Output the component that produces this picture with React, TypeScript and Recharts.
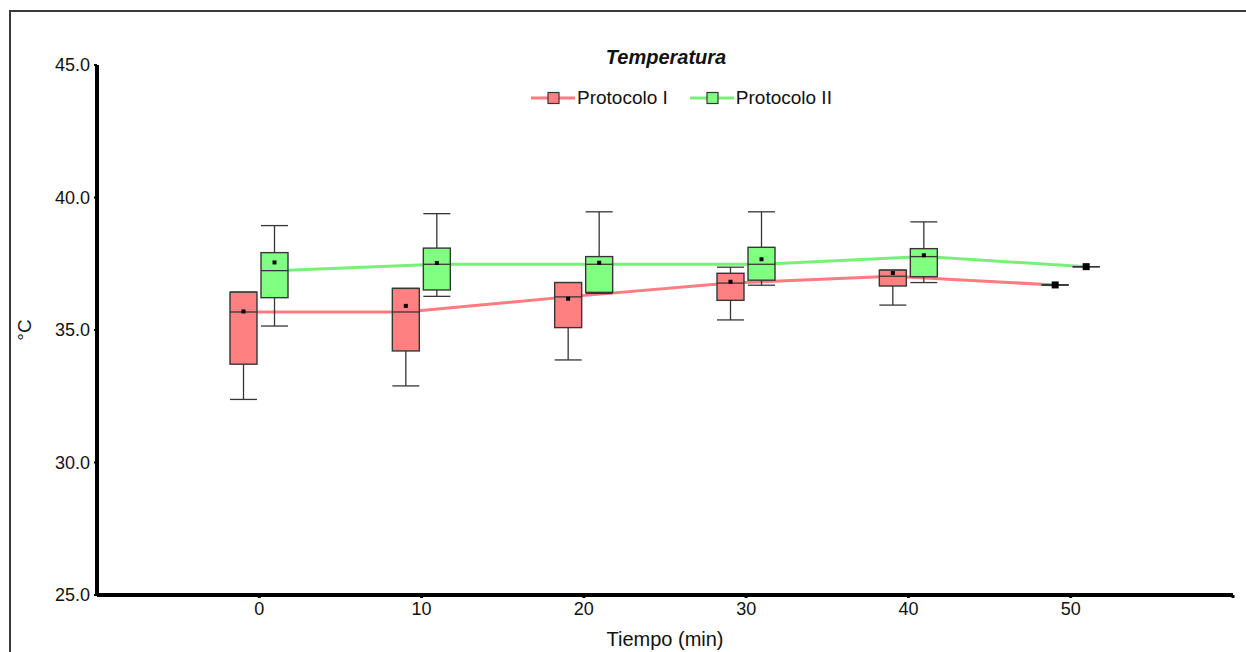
import { ComposedChart, Bar, Line, XAxis, YAxis, Legend, Label } from 'recharts';

const FONT = '"Liberation Sans", Arial, sans-serif';

// minutes
const TIMES = [0, 10, 20, 30, 40, 50];

// Protocolo I
const MIN_I = [32.38, 32.89, 33.87, 35.38, 35.94, 36.7];
const Q1_I = [33.71, 34.21, 35.09, 36.12, 36.66, 36.7];
const MED_I = [35.68, 35.68, 36.25, 36.77, 37.03, 36.7];
const Q3_I = [36.43, 36.57, 36.79, 37.14, 37.26, 36.7];
const MAX_I = [36.43, 36.57, 36.79, 37.37, 37.26, 36.7];
const MEAN_I = [35.7, 35.91, 36.18, 36.82, 37.15, 36.7];

// Protocolo II
const MIN_II = [35.15, 36.27, 36.38, 36.69, 36.79, 37.39];
const Q1_II = [36.22, 36.51, 36.42, 36.88, 37.01, 37.39];
const MED_II = [37.24, 37.48, 37.48, 37.48, 37.77, 37.39];
const Q3_II = [37.92, 38.09, 37.77, 38.12, 38.07, 37.39];
const MAX_II = [38.94, 39.39, 39.46, 39.46, 39.08, 37.39];
const MEAN_II = [37.55, 37.53, 37.54, 37.67, 37.82, 37.39];

const X_TICKS = [0, 10, 20, 30, 40, 50, 60];
const Y_TICKS = [25, 30, 35, 40, 45];

const RED = '#ff8080';
const GREEN = '#80ff80';
const RED_LINE = '#ff7b80';
const GREEN_LINE = '#78f078';
const EDGE = '#363636';

const rows = TIMES.map((t, i) => ({
  t,
  p1: { min: MIN_I[i], q1: Q1_I[i], med: MED_I[i], q3: Q3_I[i], max: MAX_I[i], mean: MEAN_I[i] },
  p2: { min: MIN_II[i], q1: Q1_II[i], med: MED_II[i], q3: Q3_II[i], max: MAX_II[i], mean: MEAN_II[i] },
}));

// medians, drawn at the dodged box centres
const lineI = TIMES.map((t, i) => ({ x: t - 1, y: MED_I[i] }));
const lineII = TIMES.map((t, i) => ({ x: t + 1, y: MED_II[i] }));

const rangeOf = (key: 'p1' | 'p2') => (d: any) => (d && d[key] ? [d[key].min, d[key].max] : undefined);

const makeBox = (key: 'p1' | 'p2', color: string) => (props: any) => {
  const { x, y, width, height, payload } = props;
  const s = payload && payload[key];
  if (!s || x == null || y == null) return <g />;
  const top = Math.min(y, y + height);
  const bottom = Math.max(y, y + height);
  const span = s.max - s.min;
  const py = (v: number) => (span > 0 ? bottom - ((v - s.min) / span) * (bottom - top) : top);
  const cx = x + width / 2;
  const yMax = py(s.max);
  const yMin = py(s.min);
  const yQ3 = py(s.q3);
  const yQ1 = py(s.q1);
  const yMed = py(s.med);
  const yMean = py(s.mean);
  const dot = span > 0 ? 4 : 7;
  return (
    <g>
      <line x1={cx} x2={cx} y1={yMax} y2={yQ3} stroke={EDGE} strokeWidth={1.3} />
      <line x1={cx} x2={cx} y1={yQ1} y2={yMin} stroke={EDGE} strokeWidth={1.3} />
      <line x1={x} x2={x + width} y1={yMax} y2={yMax} stroke={EDGE} strokeWidth={1.3} />
      <line x1={x} x2={x + width} y1={yMin} y2={yMin} stroke={EDGE} strokeWidth={1.3} />
      <rect x={x} y={yQ3} width={width} height={Math.max(0, yQ1 - yQ3)} fill={color} stroke={EDGE} strokeWidth={1.4} />
      <line x1={x} x2={x + width} y1={yMed} y2={yMed} stroke={EDGE} strokeWidth={1.3} />
      <rect x={cx - dot / 2} y={yMean - dot / 2} width={dot} height={dot} fill="#000" />
    </g>
  );
};

const renderLegend = (props: any) => {
  const items = (props.payload || []).filter((p: any) => p.type !== 'none');
  return (
    <div style={{ position: 'relative', width: 1246, height: 80, fontFamily: FONT, color: '#111' }}>
      <div
        style={{
          position: 'absolute',
          left: 566,
          width: 200,
          top: 0,
          textAlign: 'center',
          fontSize: 20,
          fontWeight: 'bold',
          fontStyle: 'italic',
          lineHeight: '24px',
        }}
      >
        Temperatura
      </div>
      <div style={{ position: 'absolute', left: 531, top: 42, display: 'flex', alignItems: 'center' }}>
        {items.map((it: any, i: number) => (
          <div key={it.value} style={{ display: 'flex', alignItems: 'center', marginLeft: i > 0 ? 22 : 0 }}>
            <svg width={44} height={14}>
              <line x1={0} x2={44} y1={7} y2={7} stroke={it.color} strokeWidth={3} />
              <rect x={17} y={1.5} width={11} height={11} fill={i === 0 ? RED : GREEN} stroke={EDGE} strokeWidth={1.2} />
            </svg>
            <span style={{ fontSize: 19, lineHeight: '22px', marginLeft: 2 }}>{it.value}</span>
          </div>
        ))}
      </div>
    </div>
  );
};

export default function App() {
  return (
    <div style={{ position: 'relative', width: 1246, height: 652, overflow: 'hidden', background: '#fff' }}>
      <style>{'body{margin:0;overflow:hidden}'}</style>
      <div
        style={{
          position: 'absolute',
          left: 9,
          top: 10,
          width: 1260,
          height: 700,
          borderLeft: '2px solid #3a3a3a',
          borderTop: '2px solid #3a3a3a',
        }}
      />
      <div style={{ position: 'absolute', left: 0, top: 0 }}>
        <ComposedChart
          width={1246}
          height={652}
          data={rows}
          margin={{ top: 65, right: 13, bottom: 0, left: 37 }}
          barGap={4}
        >
          <XAxis
            xAxisId="num"
            type="number"
            dataKey="x"
            domain={[-10, 60]}
            ticks={X_TICKS}
            allowDataOverflow
            interval={0}
            tickFormatter={(v: number) => (v === 60 ? '' : String(v))}
            axisLine={{ stroke: '#000', strokeWidth: 4 }}
            tickLine={{ stroke: '#000', strokeWidth: 3 }}
            tickSize={3}
            tickMargin={4}
            height={57}
            tick={{ fill: '#111', fontSize: 18, fontFamily: FONT }}
          >
            <Label
              value="Tiempo (min)"
              position="insideBottom"
              offset={6}
              style={{ fill: '#111', fontSize: 20, fontFamily: FONT }}
            />
          </XAxis>
          <XAxis xAxisId="cat" type="category" dataKey="t" hide height={0} padding={{ left: 81, right: 81 }} />
          <YAxis
            width={60}
            domain={[25, 45]}
            ticks={Y_TICKS}
            allowDataOverflow
            interval={0}
            tickFormatter={(v: number) => v.toFixed(1)}
            axisLine={{ stroke: '#000', strokeWidth: 4 }}
            tickLine={{ stroke: '#000', strokeWidth: 2 }}
            tickSize={3}
            tickMargin={4}
            tick={{ fill: '#111', fontSize: 18, fontFamily: FONT }}
          >
            <Label
              content={({ viewBox }: any) => {
                if (!viewBox) return null;
                const lx = viewBox.x - 13;
                const ly = viewBox.y + viewBox.height / 2;
                return (
                  <text
                    x={lx}
                    y={ly}
                    transform={`rotate(-90, ${lx}, ${ly})`}
                    textAnchor="middle"
                    dominantBaseline="central"
                    fill="#111"
                    fontSize={19}
                    fontFamily={FONT}
                  >
                    °C
                  </text>
                );
              }}
            />
          </YAxis>
          <Legend
            layout="horizontal"
            verticalAlign="middle"
            align="center"
            wrapperStyle={{ top: 45, left: 0, width: 1246 }}
            content={renderLegend}
          />
          <Line
            xAxisId="num"
            data={lineI}
            dataKey="y"
            name="Protocolo I"
            type="linear"
            stroke={RED_LINE}
            strokeWidth={3}
            dot={false}
            activeDot={false}
            zIndex={250}
            isAnimationActive={false}
          />
          <Line
            xAxisId="num"
            data={lineII}
            dataKey="y"
            name="Protocolo II"
            type="linear"
            stroke={GREEN_LINE}
            strokeWidth={3}
            dot={false}
            activeDot={false}
            zIndex={250}
            isAnimationActive={false}
          />
          <Bar
            xAxisId="cat"
            dataKey={rangeOf('p1')}
            barSize={27}
            legendType="none"
            shape={makeBox('p1', RED)}
            zIndex={300}
            isAnimationActive={false}
          />
          <Bar
            xAxisId="cat"
            dataKey={rangeOf('p2')}
            barSize={27}
            legendType="none"
            shape={makeBox('p2', GREEN)}
            zIndex={300}
            isAnimationActive={false}
          />
        </ComposedChart>
      </div>
    </div>
  );
}
